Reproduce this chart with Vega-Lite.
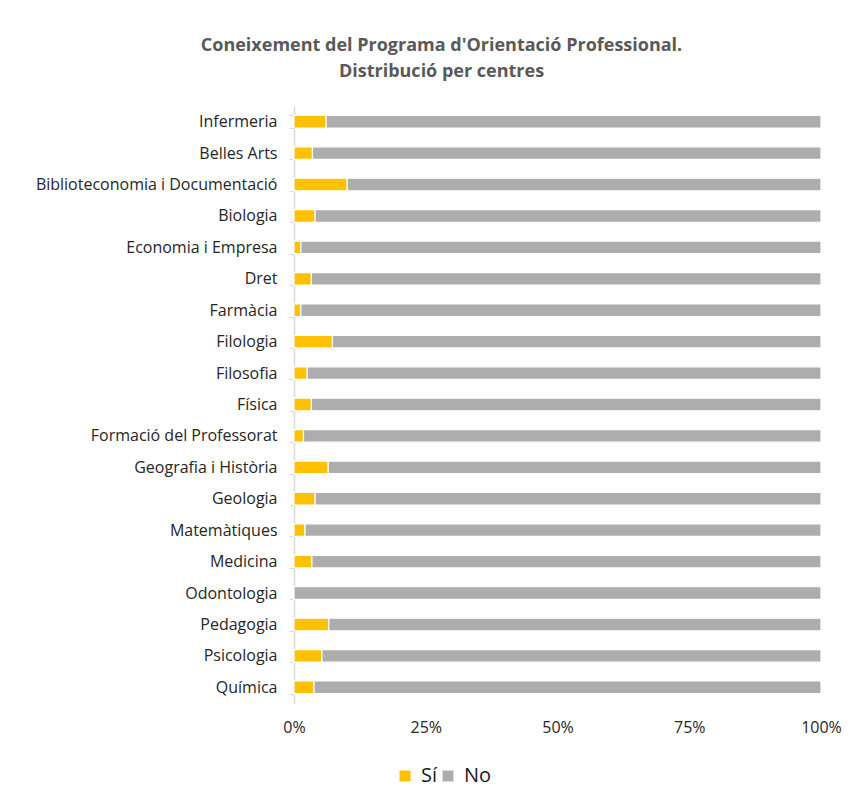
{
  "$schema": "https://vega.github.io/schema/vega-lite/v6.json",
  "autosize": {"type": "none"},
  "width": 527,
  "height": 597,
  "padding": {"left": 294, "top": 106, "right": 38, "bottom": 105},
  "background": "white",
  "title": {
    "text": ["Coneixement del Programa d'Orientació Professional.", "Distribució per centres"],
    "font": "Open Sans",
    "fontSize": 18,
    "fontWeight": "bold",
    "color": "#595959",
    "anchor": "middle",
    "frame": "group",
    "dx": -116,
    "offset": 17,
    "lineHeight": 26
  },
  "data": {
    "values": [
      {"centre": "Infermeria", "resposta": "Sí", "pct": 6.1},
      {"centre": "Infermeria", "resposta": "No", "pct": 93.9},
      {"centre": "Belles Arts", "resposta": "Sí", "pct": 3.5},
      {"centre": "Belles Arts", "resposta": "No", "pct": 96.5},
      {"centre": "Biblioteconomia i Documentació", "resposta": "Sí", "pct": 10.1},
      {"centre": "Biblioteconomia i Documentació", "resposta": "No", "pct": 89.9},
      {"centre": "Biologia", "resposta": "Sí", "pct": 4.0},
      {"centre": "Biologia", "resposta": "No", "pct": 96.0},
      {"centre": "Economia i Empresa", "resposta": "Sí", "pct": 1.3},
      {"centre": "Economia i Empresa", "resposta": "No", "pct": 98.7},
      {"centre": "Dret", "resposta": "Sí", "pct": 3.3},
      {"centre": "Dret", "resposta": "No", "pct": 96.7},
      {"centre": "Farmàcia", "resposta": "Sí", "pct": 1.3},
      {"centre": "Farmàcia", "resposta": "No", "pct": 98.7},
      {"centre": "Filologia", "resposta": "Sí", "pct": 7.3},
      {"centre": "Filologia", "resposta": "No", "pct": 92.7},
      {"centre": "Filosofia", "resposta": "Sí", "pct": 2.5},
      {"centre": "Filosofia", "resposta": "No", "pct": 97.5},
      {"centre": "Física", "resposta": "Sí", "pct": 3.3},
      {"centre": "Física", "resposta": "No", "pct": 96.7},
      {"centre": "Formació del Professorat", "resposta": "Sí", "pct": 1.8},
      {"centre": "Formació del Professorat", "resposta": "No", "pct": 98.2},
      {"centre": "Geografia i Història", "resposta": "Sí", "pct": 6.5},
      {"centre": "Geografia i Història", "resposta": "No", "pct": 93.5},
      {"centre": "Geologia", "resposta": "Sí", "pct": 4.0},
      {"centre": "Geologia", "resposta": "No", "pct": 96.0},
      {"centre": "Matemàtiques", "resposta": "Sí", "pct": 2.1},
      {"centre": "Matemàtiques", "resposta": "No", "pct": 97.9},
      {"centre": "Medicina", "resposta": "Sí", "pct": 3.4},
      {"centre": "Medicina", "resposta": "No", "pct": 96.6},
      {"centre": "Odontologia", "resposta": "Sí", "pct": 0},
      {"centre": "Odontologia", "resposta": "No", "pct": 100},
      {"centre": "Pedagogia", "resposta": "Sí", "pct": 6.6},
      {"centre": "Pedagogia", "resposta": "No", "pct": 93.4},
      {"centre": "Psicologia", "resposta": "Sí", "pct": 5.3},
      {"centre": "Psicologia", "resposta": "No", "pct": 94.7},
      {"centre": "Química", "resposta": "Sí", "pct": 3.8},
      {"centre": "Química", "resposta": "No", "pct": 96.2}
    ]
  },
  "mark": {"type": "bar", "stroke": "white", "strokeWidth": 1.2},
  "encoding": {
    "y": {
      "field": "centre",
      "type": "nominal",
      "sort": null,
      "title": null,
      "scale": {"paddingInner": 0.6, "paddingOuter": 0.3},
      "axis": {
        "tickBand": "extent",
        "tickSize": 5,
        "tickColor": "#d9d9d9",
        "domainColor": "#d9d9d9",
        "domainWidth": 1.5,
        "labelPadding": 12,
        "labelFont": "Open Sans",
        "labelFontSize": 16,
        "labelColor": "#262626",
        "labelLimit": 300
      }
    },
    "x": {
      "field": "pct",
      "type": "quantitative",
      "stack": "normalize",
      "title": null,
      "axis": {
        "values": [0, 0.25, 0.5, 0.75, 1],
        "format": ".0%",
        "domain": false,
        "ticks": false,
        "grid": false,
        "labelPadding": 16,
        "labelFont": "Open Sans",
        "labelFontSize": 16,
        "labelColor": "#262626",
        "labelFlush": false
      }
    },
    "color": {
      "field": "resposta",
      "type": "nominal",
      "scale": {"domain": ["Sí", "No"], "range": ["#FFC000", "#ADADAD"]},
      "legend": {
        "title": null,
        "orient": "none",
        "legendX": 101,
        "legendY": 660,
        "direction": "horizontal",
        "symbolType": "square",
        "symbolSize": 121,
        "symbolStrokeWidth": 0,
        "labelFont": "Open Sans",
        "labelFontSize": 20,
        "labelColor": "#1a1a1a",
        "columnPadding": 0,
        "labelOffset": 6
      }
    },
    "order": {"field": "resposta", "sort": "descending"}
  },
  "config": {"view": {"stroke": null}}
}
